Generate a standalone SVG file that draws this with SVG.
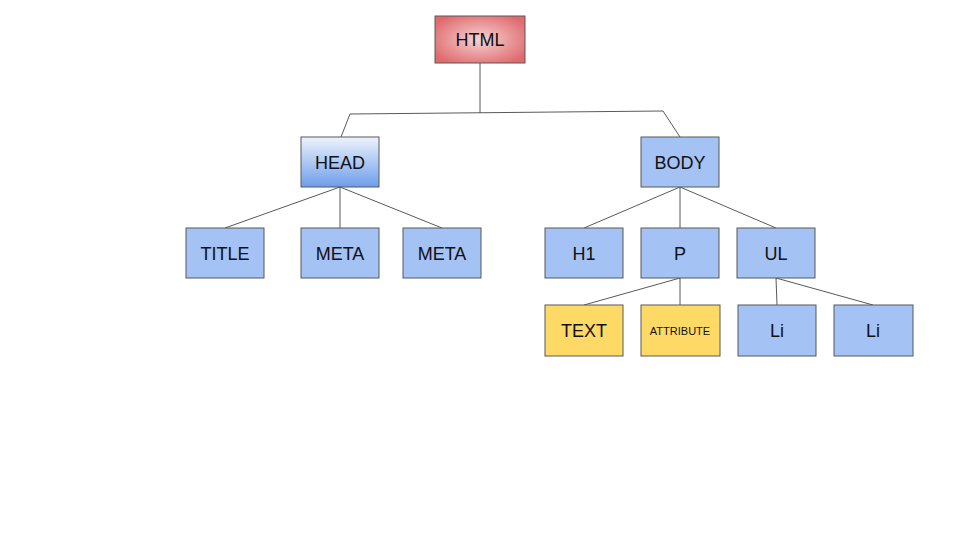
<svg xmlns="http://www.w3.org/2000/svg" width="960" height="540" viewBox="0 0 960 540">
<defs>
<radialGradient id="red" cx="50%" cy="50%" r="60%">
<stop offset="0" stop-color="#f6d3d3"/>
<stop offset="1" stop-color="#e06a6e"/>
</radialGradient>
<linearGradient id="headg" x1="0" y1="0" x2="0" y2="1">
<stop offset="0" stop-color="#eef3fc"/>
<stop offset="1" stop-color="#6d9eeb"/>
</linearGradient>
<style>
.n rect{stroke:#595959;stroke-width:1}
.blue{fill:#a4c2f4}
.yel{fill:#ffd966}
text{font-family:"Liberation Sans",Arial,sans-serif;font-size:18px;fill:#111;text-anchor:middle;dominant-baseline:central}
.sm{font-size:11px}
#connectors path{fill:none;stroke:#595959;stroke-width:1}
</style>
</defs>
<rect width="960" height="540" fill="#fff"/>
<g id="connectors">
<path d="M480 63V113"/>
<path d="M341 137L350 114L663 111L680 137"/>
<path d="M340 187L225 228M340 187V228M340 187L442 228"/>
<path d="M680 187L584 228M680 187V228M680 187L776 228"/>
<path d="M680 278L584 305M680 278V305"/>
<path d="M776 278L777 305M776 278L873 305"/>
</g>
<g id="html" class="n"><rect x="435" y="16" width="90" height="47" fill="url(#red)"/><text x="480" y="40">HTML</text></g>
<g id="head" class="n"><rect x="301" y="137" width="78" height="50" fill="url(#headg)"/><text x="340" y="163">HEAD</text></g>
<g id="body" class="n"><rect class="blue" x="641" y="137" width="78" height="50"/><text x="680" y="163">BODY</text></g>
<g id="title" class="n"><rect class="blue" x="186" y="228" width="78" height="50"/><text x="225" y="254">TITLE</text></g>
<g id="meta1" class="n"><rect class="blue" x="301" y="228" width="78" height="50"/><text x="340" y="254">META</text></g>
<g id="meta2" class="n"><rect class="blue" x="403" y="228" width="78" height="50"/><text x="442" y="254">META</text></g>
<g id="h1" class="n"><rect class="blue" x="545" y="228" width="78" height="50"/><text x="584" y="254">H1</text></g>
<g id="p" class="n"><rect class="blue" x="641" y="228" width="78" height="50"/><text x="680" y="254">P</text></g>
<g id="ul" class="n"><rect class="blue" x="737" y="228" width="78" height="50"/><text x="776" y="254">UL</text></g>
<g id="text" class="n"><rect class="yel" x="545" y="305" width="78" height="51"/><text x="584" y="331">TEXT</text></g>
<g id="attribute" class="n"><rect class="yel" x="641" y="305" width="79" height="51"/><text class="sm" x="680" y="331">ATTRIBUTE</text></g>
<g id="li1" class="n"><rect class="blue" x="738" y="305" width="78" height="51"/><text x="777" y="331">Li</text></g>
<g id="li2" class="n"><rect class="blue" x="834" y="305" width="79" height="51"/><text x="873" y="331">Li</text></g>
</svg>
